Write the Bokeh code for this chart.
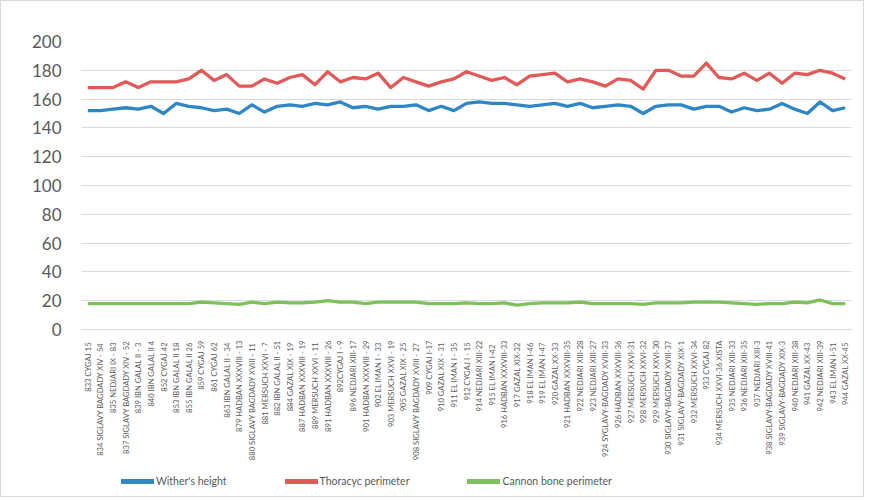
import math
from bokeh.plotting import figure
from bokeh.layouts import column
from bokeh.models import FactorRange, Range1d, Legend, LegendItem, ColumnDataSource, FixedTicker
from bokeh.embed import file_html
from bokeh.resources import INLINE

categories = [
    "833  CYGAJ 15", "834  SIGLAVY BAGDADY XIV - 54", "835  NEDJARI IX - 83",
    "837 SIGLAVY BAGDADY XIV - 52", "839  IBN GALAL II - 3", "840 IBN GALAL II 4",
    "852  CYGAJ 42", "853  IBN GALAL II 18", "855  IBN GALAL II 26", "859 CYGAJ 59",
    "861  CYGAJ 62", "863  IBN GALAL II - 34", "879 HADBAN XXXVIII - 13",
    "880  SIGLAVY BAGDADY XVIII - 11", "881  MERSUCH XXVI - 7", "882 IBN GALAL II - 51",
    "884  GAZAL XIX - 19", "887 HADBAN XXXVIII - 19", "889  MERSUCH XXVI - 11",
    "891 HADBAN XXXVIII - 26", "892CYGAJ I - 9", "896 NEDJARI XIII-17",
    "901 HADBAN XXXVIII - 29", "902  EL IMAN I - 33", "903 MERSUCH XXVI - 19",
    "905  GAZAL XIX - 25", "908  SIGLAVY BAGDADY XVIII - 27", "909 CYGAJ I-17",
    "910  GAZAL XIX - 31", "911  EL IMAN I - 35", "912  CYGAJ I - 15",
    "914 NEDJARI XIII-22", "915  EL  IMAN I-42", "916 HADBAN XXXVIII-33",
    "917  GAZAL XIX-32", "918  EL IMAN I-46", "919  EL IMAN I-47", "920  GAZAL XX-33",
    "921 HADBAN XXXVIII-35", "922 NEDJARI XIII-28", "923 NEDJARI XIII-27",
    "924 SYGLAVY-BAGDADY XVIII-33", "926 HADBAN XXXVIII-36", "927 MERSUCH XXVI-31",
    "928 MERSUCH XXVI-32", "929 MERSUCH XXVI-30", "930 SIGLAVY-BAGDADY XVIII-37",
    "931 SIGLAVY-BAGDADY XIX-1", "932 MERSUCH XXVI-34", "933 CYGAJ 82",
    "934 MERSUCH XXVI-36 XISTA", "935 NEDJARI XIII-33", "936 NEDJARI XIII-35",
    "937 NEDJARI XIII-3", "938 SIGLAVY-BAGDADY XVIII-41", "939 SIGLAVY-BAGDADY XIX-3",
    "940 NEDJARI XIII-38", "941  GAZAL XX-43", "942 NEDJARI XIII-39",
    "943  EL IMAN I-51", "944  GAZAL XX-45",
]

withers_height = [
    152, 152, 153, 154, 153, 155, 150, 157, 155, 154, 152, 153, 150, 156, 151, 155,
    156, 155, 157, 156, 158, 154, 155, 153, 155, 155, 156, 152, 155, 152, 157,
    158, 157, 157, 156, 155, 156, 157, 155, 157, 154, 155, 156, 155, 150, 155,
    156, 156, 153, 155, 155, 151, 154, 152, 153, 157, 153, 150, 158, 152, 154,
]

thoracic_perimeter = [
    168, 168, 168, 172, 168, 172, 172, 172, 174, 180, 173, 177, 169, 169, 174, 171,
    175, 177, 170, 179, 172, 175, 174, 178, 168, 175, 172, 169, 172, 174, 179,
    176, 173, 175, 170, 176, 177, 178, 172, 174, 172, 169, 174, 173, 167, 180,
    180, 176, 176, 185, 175, 174, 178, 173, 178, 171, 178, 177, 180, 178, 174,
]

cannon_bone_perimeter = [
    18, 18, 18, 18, 18, 18, 18, 18, 18, 19, 18.5, 18, 17.5, 19, 18, 19,
    18.5, 18.5, 19, 20, 19, 19, 18, 19, 19, 19, 19, 18, 18, 18, 18.5,
    18, 18, 18.5, 17, 18, 18.5, 18.5, 18.5, 19, 18, 18, 18, 18, 17.5, 18.5,
    18.5, 18.5, 19, 19, 19, 18.5, 18, 17.5, 18, 18, 19, 18.5, 20.5, 18, 18,
]

series_names = ["Wither's height", "Thoracyc perimeter", "Cannon bone perimeter"]
y_ticks = [0, 20, 40, 60, 80, 100, 120, 140, 160, 180, 200]

colors = ["#2e86c6", "#e15a57", "#7dc15b"]
FONT = "Lato"
TXT = "#595959"

source = ColumnDataSource(dict(
    cat=categories, wh=withers_height, tp=thoracic_perimeter, cb=cannon_bone_perimeter,
))

p = figure(
    width=862, height=465,
    x_range=FactorRange(*categories, range_padding=0),
    y_range=Range1d(0, 200),
    output_backend="svg", toolbar_location=None,
    min_border_left=80, min_border_right=12, min_border_top=40, min_border_bottom=137,
)
p.outline_line_color = None

for col, c in zip(["wh", "tp", "cb"], colors):
    p.line("cat", col, source=source, line_color=c, line_width=3.3, line_join="round")

p.yaxis.ticker = FixedTicker(ticks=y_ticks)
p.yaxis.axis_line_color = None
p.yaxis.major_tick_line_color = None
p.yaxis.minor_tick_line_color = None
p.yaxis.major_label_text_font = FONT
p.yaxis.major_label_text_font_size = "17px"
p.yaxis.major_label_text_color = TXT
p.yaxis.major_label_standoff = 14

p.xaxis.axis_line_color = "#d9d9d9"
p.xaxis.major_tick_line_color = None
p.xaxis.major_label_orientation = math.pi / 2
p.xaxis.major_label_text_font = FONT
p.xaxis.major_label_text_font_size = "7.6px"
p.xaxis.major_label_text_color = TXT
p.xaxis.major_label_standoff = 5

p.xgrid.grid_line_color = None
p.ygrid.grid_line_color = "#d9d9d9"
p.ygrid.grid_line_width = 1

# legend strip below the chart (same series, drawn outside its visible y range)
lg = figure(
    width=862, height=30, x_range=p.x_range, y_range=Range1d(-1000, -999),
    output_backend="svg", toolbar_location=None,
    min_border_left=0, min_border_right=0, min_border_top=0, min_border_bottom=0,
)
lg.axis.visible = False
lg.grid.visible = False
lg.outline_line_color = None
lg_r = [lg.line("cat", col, source=source, line_color=c, line_width=5, line_cap="round")
        for col, c in zip(["wh", "tp", "cb"], colors)]

legend = Legend(
    items=[LegendItem(label=n, renderers=[r]) for n, r in zip(series_names, lg_r)],
    orientation="horizontal", location=(40, 8),
    label_text_font=FONT, label_text_font_size="10.5px", label_text_color=TXT,
    glyph_width=33, glyph_height=14, spacing=58, label_standoff=2,
    border_line_color=None, background_fill_alpha=0, padding=2, margin=0,
)
lg.add_layout(legend)

layout = column(p, lg, spacing=0, styles={"border": "1px solid #d9d9d9"})
open("out.html", "w").write(file_html(layout, INLINE))
